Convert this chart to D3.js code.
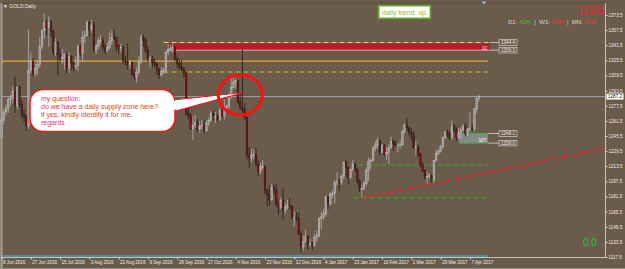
<!DOCTYPE html>
<html><head><meta charset="utf-8">
<script src="https://cdn.jsdelivr.net/npm/d3@7/dist/d3.min.js"></script>
<style>html,body{margin:0;padding:0;background:#6b5b4b;overflow:hidden}</style>
</head><body>
<svg id="c" width="625" height="269"></svg>
<script>
// ---- DATA (GOLD, Daily, OHLC per bar: [open, high, low, close]) ----
const candles = [
[1245,1266,1243,1262],[1262,1274,1258,1271],[1271,1279,1267,1275],[1275,1287,1270,1284],[1284,1289,1278,1285],
[1285,1298,1280,1293],[1293,1308,1270,1278],[1278,1298,1274,1297],[1297,1299,1276,1279],[1279,1284,1264,1268],
[1268,1273,1260,1266],[1266,1268,1251,1256],[1256,1358,1253,1315],[1315,1334,1312,1324],[1324,1328,1308,1312],
[1312,1323,1308,1317],[1317,1325,1310,1321],[1321,1350,1318,1340],[1340,1358,1337,1357],[1357,1375,1348,1366],
[1366,1368,1352,1360],[1360,1372,1340,1366],[1366,1368,1350,1356],[1356,1358,1331,1334],[1334,1349,1330,1344],
[1344,1346,1310,1332],[1332,1338,1324,1327],[1327,1338,1322,1329],[1329,1333,1316,1332],[1332,1334,1312,1317],
[1317,1334,1312,1330],[1330,1331,1315,1323],[1323,1325,1314,1318],[1318,1330,1316,1320],[1320,1342,1314,1340],
[1340,1343,1330,1333],[1333,1357,1324,1350],[1350,1357,1344,1352],[1352,1368,1351,1366],[1366,1367,1351,1358],
[1358,1368,1355,1363],[1363,1367,1334,1336],[1336,1343,1332,1340],[1340,1350,1337,1346],[1346,1352,1342,1347],
[1347,1350,1336,1339],[1339,1343,1332,1336],[1336,1344,1334,1339],[1339,1355,1337,1346],[1346,1357,1342,1350],
[1350,1358,1347,1349],[1349,1351,1335,1341],[1341,1342,1332,1338],[1338,1343,1334,1339],[1339,1341,1322,1325],
[1325,1330,1320,1324],[1324,1343,1316,1321],[1321,1326,1317,1323],[1323,1324,1309,1311],[1311,1316,1305,1308],
[1308,1318,1302,1313],[1313,1330,1311,1323],[1323,1353,1322,1350],[1350,1353,1340,1347],[1347,1349,1333,1336],
[1336,1340,1324,1328],[1328,1330,1318,1328],[1328,1330,1318,1323],[1323,1327,1318,1321],[1321,1324,1310,1316],
[1316,1318,1306,1310],[1310,1318,1308,1314],[1314,1318,1311,1315],[1315,1336,1312,1334],[1334,1343,1331,1337],
[1337,1342,1335,1338],[1338,1345,1333,1339],[1339,1340,1324,1327],[1327,1331,1318,1322],[1322,1327,1316,1318],
[1318,1326,1312,1316],[1316,1318,1307,1312],[1312,1313,1267,1269],[1269,1278,1263,1267],[1267,1270,1252,1253],
[1253,1266,1241,1257],[1257,1268,1254,1260],[1260,1263,1250,1253],[1253,1261,1249,1256],[1256,1263,1252,1257],
[1257,1263,1248,1251],[1251,1262,1250,1259],[1259,1265,1256,1262],[1262,1272,1261,1269],[1269,1272,1262,1266],
[1266,1271,1259,1266],[1266,1269,1261,1263],[1263,1275,1261,1273],[1273,1278,1265,1267],[1267,1284,1263,1276],
[1276,1279,1271,1277],[1277,1292,1274,1289],[1289,1308,1285,1297],[1297,1308,1296,1302],[1302,1306,1295,1304],
[1304,1305,1279,1281],[1281,1290,1274,1275],[1275,1337,1270,1273],[1273,1280,1262,1265],[1265,1266,1221,1225],
[1225,1234,1211,1222],[1222,1232,1218,1225],[1225,1232,1221,1226],[1226,1233,1213,1216],[1216,1220,1203,1208],
[1208,1217,1205,1213],[1213,1220,1210,1213],[1213,1215,1184,1188],[1188,1190,1171,1183],[1183,1193,1172,1178],
[1178,1195,1177,1191],[1191,1194,1183,1188],[1188,1195,1171,1173],[1173,1178,1162,1170],[1170,1180,1168,1177],
[1177,1190,1157,1167],[1167,1175,1163,1170],[1170,1178,1168,1172],[1172,1180,1168,1171],[1171,1172,1157,1159],
[1159,1166,1150,1159],[1159,1165,1155,1158],[1158,1164,1140,1142],[1142,1145,1122,1128],[1128,1140,1124,1134],
[1134,1146,1132,1139],[1139,1140,1125,1131],[1131,1137,1128,1132],[1132,1134,1125,1130],[1130,1142,1128,1138],
[1138,1145,1134,1140],[1140,1160,1138,1158],[1158,1165,1147,1160],[1160,1168,1157,1163],[1163,1183,1160,1181],
[1181,1182,1168,1173],[1173,1186,1172,1184],[1184,1188,1180,1185],[1185,1199,1174,1196],[1196,1207,1193,1197],
[1197,1200,1187,1196],[1196,1205,1194,1203],[1203,1219,1200,1217],[1217,1220,1202,1212],[1212,1213,1194,1202],
[1202,1212,1200,1210],[1210,1220,1208,1216],[1216,1217,1207,1210],[1210,1212,1195,1198],[1198,1200,1186,1190],
[1190,1194,1180,1190],[1190,1198,1188,1195],[1195,1212,1193,1209],[1209,1223,1198,1219],[1219,1222,1211,1220],
[1220,1235,1218,1232],[1232,1240,1229,1236],[1236,1244,1232,1241],[1241,1242,1225,1228],[1228,1237,1227,1235],
[1235,1237,1224,1226],[1226,1234,1220,1228],[1228,1237,1216,1233],[1233,1245,1232,1240],[1240,1242,1230,1237],
[1237,1240,1234,1236],[1236,1238,1228,1236],[1236,1241,1232,1236],[1236,1252,1235,1250],[1250,1259,1248,1257],
[1257,1264,1250,1254],[1254,1256,1245,1249],[1249,1254,1241,1248],[1248,1250,1232,1233],[1233,1240,1225,1234],
[1234,1236,1223,1226],[1226,1228,1212,1215],[1215,1218,1207,1209],[1209,1210,1200,1203],[1203,1208,1195,1203],
[1203,1206,1200,1204],[1204,1205,1196,1199],[1199,1220,1196,1220],[1220,1231,1218,1227],[1227,1231,1225,1229],
[1229,1236,1228,1234],[1234,1245,1232,1244],[1244,1251,1242,1249],[1249,1252,1244,1247],[1247,1251,1242,1243],
[1243,1262,1242,1256],[1256,1258,1249,1252],[1252,1255,1240,1244],[1244,1254,1242,1249],[1249,1255,1241,1252],
[1252,1258,1250,1256],[1256,1259,1245,1248],[1248,1254,1245,1253],[1253,1271,1250,1254],[1254,1258,1251,1253],
[1253,1275,1250,1274],[1274,1286,1270,1285],[1285,1289,1282,1287]
];
const dateLabels = ["8 Jun 2016","27 Jun 2016","15 Jul 2016","3 Aug 2016","22 Aug 2016","9 Sep 2016","28 Sep 2016",
  "17 Oct 2016","4 Nov 2016","23 Nov 2016","12 Dec 2016","4 Jan 2017","23 Jan 2017","10 Feb 2017","1 Mar 2017",
  "20 Mar 2017","7 Apr 2017"];
const barsPerLabel = 13;
const priceTicks = [1117.5,1133.5,1149.5,1165.5,1181.5,1197.5,1213.5,1229.5,1245.5,1261.5,1277.5,1293.5,1309.5,1325.5,1341.5,1357.5,1373.5];
const currentPrice = 1287.2;
const supplyZone = [1344.4, 1336.3];
const demandZone = [1248.1, 1238.0];
const orangeLevel = 1324.8;
const yellowLevel = 1313.2;
const greenLevels = [1214.8, 1179.8];
const trendLine = [[159.6, 1179.3], [268.4, 1232.8]];
const strength = [["D1:", "42%", "#33c433"], ["W1:", "73%", "#ff3030"], ["MN:", "61%", "#ff3030"]];
const question = ["my question:", "do we have a daily supply zone here?", "if yes, kindly identify it for me.", "regards"];
const circleAt = [106, 1289];

// ---- DRAWING ----
const W = 625, H = 269;
const font = '"Liberation Sans", Arial, sans-serif';
const svg = d3.select('#c');
const x = d3.scaleLinear().domain([0, 212]).range([1.5, 1.5 + 212 * 2.252]);
const y = d3.scaleLinear().domain([1117.5, 1373.5]).range([257, 15]);
const objEnd = 216;

svg.append('rect').attr('width', W).attr('height', H).attr('fill', '#6b5b4b');

// frame
svg.append('line').attr('x1', 1.5).attr('x2', 1.5).attr('y1', 3).attr('y2', 268).attr('stroke', '#a9a49c').attr('stroke-width', 2);
svg.append('line').attr('x1', 1).attr('x2', 606).attr('y1', 3).attr('y2', 3).attr('stroke', '#5a4c3e').attr('stroke-width', 1);
svg.append('line').attr('x1', 0).attr('x2', W).attr('y1', 268.5).attr('y2', 268.5).attr('stroke', '#9a8e80').attr('stroke-width', 1);

// cyan line near bottom
svg.append('line').attr('x1', 2).attr('x2', x(objEnd)).attr('y1', 256).attr('y2', 256).attr('stroke', '#3cc4dc').attr('stroke-width', 1);

// horizontal objects
svg.append('line').attr('x1', 2).attr('x2', 606).attr('y1', y(currentPrice)).attr('y2', y(currentPrice)).attr('stroke', '#9ea0a4').attr('stroke-width', 1);
svg.append('line').attr('x1', 2).attr('x2', x(objEnd)).attr('y1', y(orangeLevel)).attr('y2', y(orangeLevel)).attr('stroke', '#e8a834').attr('stroke-width', 1.3);
svg.append('line').attr('x1', x(72)).attr('x2', x(objEnd)).attr('y1', y(yellowLevel)).attr('y2', y(yellowLevel)).attr('stroke', '#c9c22a').attr('stroke-width', 1.2).attr('stroke-dasharray', '5,3');

// supply zone
svg.append('rect').attr('x', x(73.5)).attr('y', y(supplyZone[0]) + 1).attr('width', x(217) - x(73.5))
  .attr('height', y(supplyZone[1]) - y(supplyZone[0]) - 1).attr('fill', '#b41e2a');
svg.append('line').attr('x1', x(72)).attr('x2', x(217)).attr('y1', y(supplyZone[0])).attr('y2', y(supplyZone[0])).attr('stroke', '#e2cf7a').attr('stroke-width', 1).attr('stroke-dasharray', '5,3');
svg.append('line').attr('x1', x(73.5)).attr('x2', x(217)).attr('y1', y(supplyZone[1])).attr('y2', y(supplyZone[1])).attr('stroke', '#e6a6a0').attr('stroke-width', 1);
svg.append('text').attr('x', x(217) - 3).attr('y', y(supplyZone[1]) - 0.5).attr('text-anchor', 'end').attr('font-family', font).attr('font-size', 4.5).attr('fill', '#e8e0e0').text('02');

// demand zone
svg.append('rect').attr('x', x(203.2)).attr('y', y(demandZone[0])).attr('width', x(objEnd) - x(203.2))
  .attr('height', y(demandZone[1]) - y(demandZone[0])).attr('fill', '#87888c');
demandZone.forEach(p => svg.append('line').attr('x1', x(203.2)).attr('x2', x(objEnd)).attr('y1', y(p)).attr('y2', y(p)).attr('stroke', '#2ec42e').attr('stroke-width', 1));
svg.append('text').attr('x', x(objEnd) - 1.5).attr('y', y(demandZone[1]) - 1).attr('text-anchor', 'end').attr('font-family', font).attr('font-size', 4.8).attr('fill', '#ffffff').text('107');

// zone price labels
function zoneLabel(p, xr) {
  const yy = y(p);
  svg.append('line').attr('x1', xr).attr('x2', 499).attr('y1', yy).attr('y2', yy).attr('stroke', '#d8d8d8').attr('stroke-width', 0.8);
  svg.append('rect').attr('x', 499).attr('y', yy - 2.8).attr('width', 18).attr('height', 5.6).attr('fill', '#6b5b4b').attr('stroke', '#e0e0e0').attr('stroke-width', 0.6);
  svg.append('text').attr('x', 508).attr('y', yy + 1.7).attr('text-anchor', 'middle').attr('font-family', font).attr('font-size', 4.6).attr('fill', '#f0f0f0').text(p.toFixed(1));
}
supplyZone.forEach(p => zoneLabel(p, x(217)));
demandZone.forEach(p => zoneLabel(p, x(objEnd)));

// green dashed levels
svg.append('line').attr('x1', x(158)).attr('x2', x(objEnd)).attr('y1', y(greenLevels[0])).attr('y2', y(greenLevels[0])).attr('stroke', '#3aa82a').attr('stroke-width', 1.2).attr('stroke-dasharray', '5,3');
svg.append('line').attr('x1', x(156.5)).attr('x2', x(objEnd)).attr('y1', y(greenLevels[1])).attr('y2', y(greenLevels[1])).attr('stroke', '#3aa82a').attr('stroke-width', 1.2).attr('stroke-dasharray', '5,3');

// trend line
svg.append('line').attr('x1', x(trendLine[0][0])).attr('y1', y(trendLine[0][1])).attr('x2', x(trendLine[1][0])).attr('y2', y(trendLine[1][1]))
  .attr('stroke', '#e8262a').attr('stroke-width', 1);

// candles
const cg = svg.append('g');
const up = d => d[3] >= d[0];
cg.selectAll('line.w').data(candles).join('line').attr('class', 'w')
  .attr('x1', (d, i) => x(i)).attr('x2', (d, i) => x(i))
  .attr('y1', d => y(d[1])).attr('y2', d => y(d[2]))
  .attr('stroke', d => up(d) ? '#b4b4b4' : '#1e1a18').attr('stroke-width', 0.8);
cg.selectAll('rect.b').data(candles).join('rect').attr('class', 'b')
  .attr('x', (d, i) => x(i) - 0.85).attr('width', 1.7)
  .attr('y', d => y(Math.max(d[0], d[3])))
  .attr('height', d => Math.max(0.8, Math.abs(y(d[0]) - y(d[3]))))
  .attr('fill', d => up(d) ? '#9a9a9a' : '#7c1414')
  .attr('stroke', d => up(d) ? '#c6c6c6' : '#1e1a18').attr('stroke-width', 0.4);

// axes
const yAxis = d3.axisRight(y).tickValues(priceTicks).tickSize(2).tickPadding(1).tickFormat(d3.format('.1f'));
const ya = svg.append('g').attr('transform', 'translate(605.5,0)').call(yAxis);
ya.select('.domain').attr('d', 'M0,3V257.5').attr('stroke', '#c8c4bc');
ya.selectAll('line').attr('stroke', '#d8d8d8');
ya.selectAll('text').attr('font-family', font).attr('font-size', 4.6).attr('fill', '#ececec');

const xAxis = d3.axisBottom(x).tickValues(dateLabels.map((d, i) => i * barsPerLabel)).tickSize(2).tickPadding(2)
  .tickFormat((d, i) => dateLabels[i]);
const xa = svg.append('g').attr('transform', 'translate(0,257.5)').call(xAxis);
xa.select('.domain').attr('d', 'M1,0H606').attr('stroke', '#c8c4bc');
xa.selectAll('line').attr('stroke', '#d8d8d8');
xa.selectAll('text').attr('font-family', font).attr('font-size', 4.5).attr('fill', '#ececec')
  .attr('text-anchor', 'start').attr('dx', 1).attr('dy', '0.6em');

// current price label
const cp = y(currentPrice);
svg.append('rect').attr('x', 606.5).attr('y', cp - 3).attr('width', 17).attr('height', 6).attr('fill', '#ffffff');
svg.append('text').attr('x', 608).attr('y', cp + 1.7).attr('font-family', font).attr('font-size', 4.6).attr('fill', '#111').text(currentPrice.toFixed(1));

// callout bubble
const bub = svg.append('g');
const tip = [x(circleAt[0]) + 2, y(circleAt[1]) - 2];
bub.append('path').attr('d', `M172,100 L${tip[0]},${tip[1]} L172,112 Z`).attr('fill', '#ffffff').attr('stroke', '#ee1c1c').attr('stroke-width', 1.2);
bub.append('rect').attr('x', 30).attr('y', 89.5).attr('width', 145).attr('height', 42).attr('rx', 13).attr('ry', 13)
  .attr('fill', '#ffffff').attr('stroke', '#ee1c1c').attr('stroke-width', 1.5);
bub.append('path').attr('d', `M170,101.2 L${tip[0] - 4},${tip[1] + 0.6} L170,110.8 Z`).attr('fill', '#ffffff');
bub.selectAll('text.q').data(question).join('text').attr('class', 'q')
  .attr('x', 41).attr('y', (d, i) => 100.5 + i * 8.3)
  .attr('font-family', font).attr('font-size', 7).attr('fill', '#e23c3c').text(d => d);

// red circle
svg.append('ellipse').attr('cx', x(circleAt[0])).attr('cy', y(circleAt[1])).attr('rx', 22).attr('ry', 20)
  .attr('fill', 'none').attr('stroke', '#ff1010').attr('stroke-width', 3);

// top-left label
svg.append('text').attr('x', 3).attr('y', 8).attr('font-family', font).attr('font-size', 5).attr('fill', '#e6e6e6').text('▼ GOLD,Daily');

// chart shift marker
svg.append('path').attr('d', 'M481.5,1.5 L486.5,1.5 L484,4.5 Z').attr('fill', '#8fb4d6');

// daily trend box
svg.append('rect').attr('x', 378.5).attr('y', 5.5).attr('width', 52).attr('height', 13).attr('fill', '#ffffff').attr('stroke', '#5d9e24').attr('stroke-width', 1.8);
svg.append('text').attr('x', 382).attr('y', 14.5).attr('font-family', font).attr('font-size', 7).attr('fill', '#7bbf45').text('daily trend: up');

// timer
svg.append('text').attr('x', 605).attr('y', 13.5).attr('text-anchor', 'end').attr('font-family', font).attr('font-size', 10).attr('fill', '#ff2020').text('11551');

// strength line
const st = svg.append('text').attr('x', 508).attr('y', 23.5).attr('font-family', font).attr('font-size', 6).attr('xml:space', 'preserve');
strength.forEach((s, i) => {
  st.append('tspan').attr('fill', '#d8d8d8').text((i ? '  |  ' : '') + s[0] + ' ');
  st.append('tspan').attr('fill', s[2]).text(s[1]);
});

// 0.0 indicator
svg.append('text').attr('x', 583).attr('y', 245.5).attr('font-family', font).attr('font-size', 10).attr('fill', '#2ec82e').text('0.0');
</script>
</body></html>
